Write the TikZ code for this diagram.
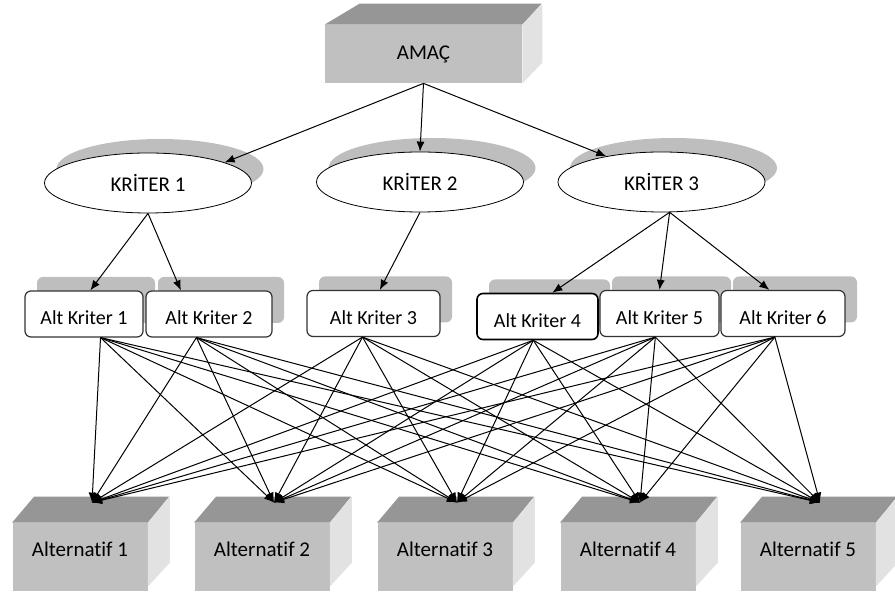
\documentclass[tikz,border=0pt]{standalone}
\usepackage{fontspec}
\setmainfont{Carlito}[Ligatures=NoCommon]
\usetikzlibrary{shapes.geometric,shadows,arrows.meta}

\definecolor{cubefront}{RGB}{192,192,192}
\definecolor{cubetop}{RGB}{150,150,150}
\definecolor{cubeside}{RGB}{226,226,226}
\definecolor{shade}{RGB}{190,190,190}

\begin{document}
\begin{tikzpicture}[x=0.5pt,y=-0.5pt,>={Latex[length=5pt,width=4pt]}]
		\tikzstyle{kriter}=[ellipse,draw=black,thin,fill=white,minimum width=103.5pt,minimum height=30pt,font=\fontsize{10.5}{12}\selectfont,drop shadow={shadow xshift=6pt,shadow yshift=7pt,fill=shade,opacity=1}]
		\tikzstyle{altkriter}=[rectangle,rounded corners=3pt,draw=black!80,semithick,fill=white,minimum height=23pt,text height=11pt,text depth=0pt,font=\fontsize{10}{12}\selectfont,drop shadow={shadow xshift=6pt,shadow yshift=7pt,fill=shade,opacity=1}]
		\tikzstyle{cube}=[rectangle,fill=cubefront,font=\fontsize{10.5}{12}\selectfont]
		\tikzstyle{alternatif}=[cube,minimum width=67.5pt,minimum height=34pt,text height=5pt,text depth=5pt]
		\tikzstyle{edge}=[draw=black,line width=0.5pt]

		\useasboundingbox (0,0) rectangle (895,592);

		 % amac
		 \node [cube,minimum width=98.5pt,minimum height=29pt] (amac) at (423.5,54) {AMAÇ};
		 \fill[cubetop] (amac.north west) -- ++(35,-21) -- ++(182,0) -- (amac.north east) -- cycle;
		 \fill[cubeside] (amac.north east) -- ++(20,-21) -- ++(0,59) -- (amac.south east) -- cycle;

		 % kriterler
		 \node [kriter] (k1) at (148,183) {KRİTER 1};
		 \node [kriter] (k2) at (420,182) {KRİTER 2};
		 \node [kriter] (k3) at (661.5,182) {KRİTER 3};

		 % alt kriterler
		 \node [altkriter,minimum width=59pt] (ak1) at (84,314) {Alt Kriter 1};
		 \node [altkriter,minimum width=63pt] (ak2) at (209,314) {Alt Kriter 2};
		 \node [altkriter,minimum width=66.5pt] (ak3) at (373.5,313.5) {Alt Kriter 3};
		 \node [altkriter,minimum width=60.5pt,draw=black,thick] (ak4) at (537.5,316.5) {Alt Kriter 4};
		 \node [altkriter,minimum width=59.5pt] (ak5) at (659.5,313.5) {Alt Kriter 5};
		 \node [altkriter,minimum width=62pt] (ak6) at (783,313.5) {Alt Kriter 6};

		 % alternatifler
		 \node [alternatif] (alt1) at (80,557) {Alternatif 1};
		 \node [alternatif] (alt2) at (262,557) {Alternatif 2};
		 \node [alternatif] (alt3) at (445,557) {Alternatif 3};
		 \node [alternatif] (alt4) at (628,557) {Alternatif 4};
		 \node [alternatif] (alt5) at (808,557) {Alternatif 5};
		 \foreach \i in {1,...,5}{
		   \fill[cubetop] (alt\i.north west) -- ++(22,-26) -- ++(135,0) -- (alt\i.north east) -- cycle;
		   \fill[cubeside] (alt\i.north east) -- ++(22,-26) -- ++(0,66) -- ++(-22,24) -- cycle;
		   \coordinate (t\i) at ([shift={(12,-20)}]alt\i.north);
		 }

		 \path[edge,->] (amac.south) -- (k1.15);
		 \path[edge,->] (amac.south) -- (k2.north);
		 \path[edge,->] (amac.south) -- (k3.155);

		 \path[edge,->] (k1.south) -- (ak1.75);
		 \path[edge,->] (k1.south) -- (ak2.140);
		 \path[edge,->] (k2.south) -- (ak3.75);
		 \path[edge,->] (k3.-75) -- (ak4.58);
		 \path[edge,->] (k3.-75) -- (ak5.north);
		 \path[edge,->] (k3.-75) -- (ak6.120);

		 % her alt kriterden her alternatife
		 \foreach \a/\s in {1/-55,2/-118,3/-115,4/-100,5/-100,6/-109}
		   \foreach \b in {1,...,5}
		     \path[edge,->] (ak\a.\s) -- (t\b);

	\end{tikzpicture}
\end{document}
